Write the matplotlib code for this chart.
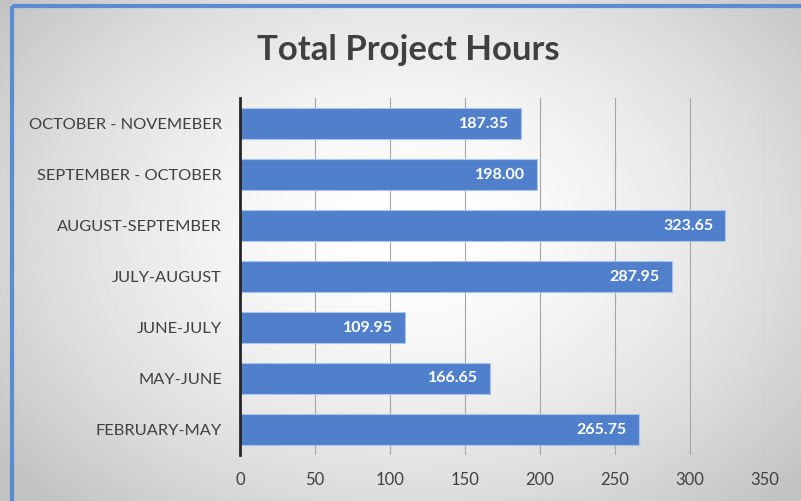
import numpy as np
import matplotlib.pyplot as plt
from matplotlib.patches import Rectangle

plt.rcParams['font.family'] = ['Lato', 'DejaVu Sans']

# Data (bottom to top, as drawn)
periods = ['FEBRUARY-MAY', 'MAY-JUNE', 'JUNE-JULY', 'JULY-AUGUST',
           'AUGUST-SEPTEMBER', 'SEPTEMBER - OCTOBER', 'OCTOBER - NOVEMEBER']
hours = [265.75, 166.65, 109.95, 287.95, 323.65, 198.00, 187.35]
xticks = [0, 50, 100, 150, 200, 250, 300, 350]

W, H = 801, 501
fig = plt.figure(figsize=(W / 100, H / 100), dpi=100)

# radial grey background
bg = fig.add_axes([0, 0, 1, 1], zorder=-10)
yy, xx = np.mgrid[0:H, 0:W]
r = np.sqrt(((xx - 410) / 520.0) ** 2 + ((yy - 230) / 380.0) ** 2)
shade = 1.0 - 0.24 * np.clip(r, 0, 1) ** 1.6
bg.imshow(shade, cmap='gray', vmin=0, vmax=1, extent=[0, W, H, 0], aspect='auto')
bg.add_patch(Rectangle((12, 6), W + 20, H + 20, fill=False, edgecolor='#5b8bd0', linewidth=3))
bg.set_xlim(0, W)
bg.set_ylim(H, 0)
bg.axis('off')

ax = fig.add_axes([240 / W, 46 / H, 525 / W, 357 / H])
ax.patch.set_alpha(0)
ypos = np.arange(len(periods))
bars = ax.barh(ypos, hours, height=0.6, color='#5080cc', edgecolor='#a9c4ee', linewidth=0.8, zorder=3)

for y, v in zip(ypos, hours):
    ax.text(v - 8, y, f'{v:.2f}', ha='right', va='center', color='white',
            fontsize=11.5, fontweight='bold', zorder=4)

ax.set_xlim(0, 350)
ax.set_ylim(-0.5, len(periods) - 0.5)
ax.set_xticks(xticks)
ax.set_yticks(ypos)
ax.set_yticklabels(periods)
ax.tick_params(axis='both', length=0, colors='#404040')
ax.tick_params(axis='x', pad=12, labelsize=12)
ax.tick_params(axis='y', pad=13, labelsize=11.8)
ax.xaxis.grid(True, color='#a6a6a6', linewidth=0.8, zorder=0)
for s in ['top', 'right', 'bottom']:
    ax.spines[s].set_visible(False)
ax.spines['left'].set_color('#262626')
ax.spines['left'].set_linewidth(2)
ax.spines['left'].set_zorder(5)

fig.text(408 / W, 1 - 50 / H, 'Total Project Hours', ha='center', va='center',
         fontsize=25, fontweight='bold', color='#404040')

fig.savefig('out.png', dpi=100)
